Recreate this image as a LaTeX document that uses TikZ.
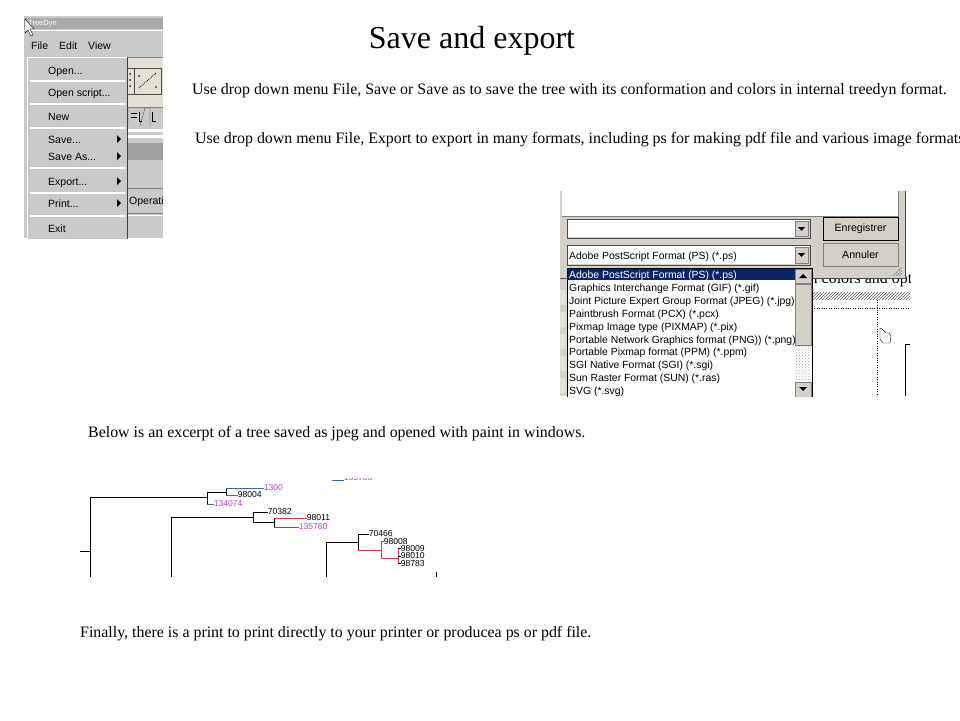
\documentclass[tikz,border=0pt]{standalone}
\usepackage{fontspec}
\setmainfont{Liberation Serif}
\newfontfamily\guifont{Liberation Sans}
\usepackage{xcolor}
\usetikzlibrary{patterns}

\definecolor{wingray}{HTML}{D4D0C8}
\definecolor{menugray}{HTML}{C9C9C9}
\definecolor{titlegray}{HTML}{A9A9A9}
\definecolor{toolbeige}{HTML}{E4E0D4}
\definecolor{selblue}{HTML}{0A246A}
\definecolor{branchblue}{HTML}{3A66B0}
\definecolor{branchred}{HTML}{E0304A}
\definecolor{leafpink}{HTML}{C03CC8}

\newcommand{\menudots}{...}

\tikzset{
	slide text/.style = {anchor = base west, inner sep = 0pt, font = \fontsize{15.9}{17}\selectfont},
	menu text/.style = {anchor = base west, inner sep = 0pt, font = \guifont\fontsize{10.5}{12}\selectfont},
	list text/.style = {anchor = base west, inner sep = 0pt, font = \guifont\fontsize{10.4}{11}\selectfont},
	leaf/.style = {anchor = west, inner sep = 0pt, xshift = 0.6pt, font = \guifont\fontsize{8.6}{9}\selectfont},
	branch/.style = {line width = 0.9pt},
	sub arrow/.style = {fill = black},
	raised/.style = {fill = wingray, draw = gray},
}

\begin{document}
\begin{tikzpicture}[x = 1pt, y = -1pt]
	\useasboundingbox (0,0) rectangle (960,720);
	\clip (0,0) rectangle (960,720);

	% title and comments
	\node[anchor = base, inner sep = 0pt, font = \fontsize{32}{34}\selectfont] (title) at (472,48) {Save and export};
	\node[slide text] (save note) at (192,94) {Use drop down menu File, Save or Save as to save the tree with its conformation and colors in internal treedyn format.};
	\node[slide text] (export note) at (195,143) {Use drop down menu File, Export to export in many formats, including ps for making pdf file and various image formats};
	\node[slide text] (jpeg note) at (88,437) {Below is an excerpt of a tree saved as jpeg and opened with paint in windows.};
	\node[slide text] (print note) at (80,637) {Finally, there is a print to print directly to your printer or producea ps or pdf file.};

	% menu screenshot
	\begin{scope}
		\clip (24,16) rectangle (163,238);
		\fill[menugray] (24,16) rectangle (163,238);
		\fill[titlegray] (24,18) rectangle (163,29);
		\node[anchor = west, inner sep = 0pt, text = white, font = \guifont\fontsize{7.5}{8}\selectfont] (window title) at (28,23.5) {TreeDyn};
		\draw[white] (24,30.5) -- (163,30.5);
		\node[menu text] (menu file) at (31,49) {File};
		\node[menu text] (menu edit) at (59,49) {Edit};
		\node[menu text] (menu view) at (88,49) {View};

		% what is left of the window
		\fill[toolbeige] (128,57) rectangle (163,107);
		\draw[gray] (128,57) -- (163,57) (128,107) -- (163,107);
		\draw[gray!60!black] (126,68) rectangle (134,94) (134,68) rectangle (161,94);
		\draw[densely dotted, thick] (139,88) -- (156,73);
		\fill (139,76) circle [radius = 0.8pt] (156,87) circle [radius = 0.8pt] (130,74) circle [radius = 0.8pt] (130,80) circle [radius = 0.8pt] (130,86) circle [radius = 0.8pt];
		\draw[gray!60!black] (128,108) -- (128,126) (145,108) -- (140,126) (145,108) -- (150,108) -- (150,126);
		\draw (131,113) -- (137,113) (131,117) -- (137,117) (139,112) -- (139,121) -- (142,121) (152,112) -- (152,121) -- (156,121);
		\fill[white] (128,129) rectangle (163,132) (128,135) rectangle (163,138);
		\fill[gray!75] (128,143) rectangle (163,160);
		\draw[gray] (128,188) -- (163,188);
		\draw[gray] (128,213) -- (163,213);
		\draw[white] (128,215) -- (163,215);
		\node[menu text] (tab label) at (129,204) {Operations};

		% drop down menu File
		\fill[menugray] (27,57) rectangle (128,240);
		\draw[white] (27.5,240) -- (27.5,57.5) -- (127,57.5);
		\draw[gray!50!black] (127.5,57) -- (127.5,240);
		\foreach \name/\y in {Open\menudots/74, Open script\menudots/96, New/120, Save\menudots/143, Save As\menudots/160, Export\menudots/185, Print\menudots/207, Exit/232}
			\node[menu text] (item \y) at (48,\y) {\name};
		\foreach \y in {80, 103, 127, 167, 192, 215}
			\draw[gray] (30,\y) -- (125,\y) [white] (30,\y+1) -- (125,\y+1);
		\foreach \y in {139, 156, 181, 203}
			\fill[sub arrow] (117,\y-4) -- (117,\y+4) -- (121,\y) -- cycle;

		% mouse pointer
		\draw[fill = white, line join = round] (25,19) -- (25,33) -- (28,30) -- (31,36) -- (33,35) -- (30,29) -- (34,29) -- cycle;
	\end{scope}

	% export dialog screenshot
	\begin{scope}
		\clip (560,191) rectangle (910,396);
		\fill[white] (560,191) rectangle (910,396);

		% page behind the dialog
		\node[anchor = base west, inner sep = 0pt, font = \fontsize{16}{18}\selectfont] (page text) at (805,283) {in colors and options};
		\fill[pattern = north east lines, pattern color = gray!70!black] (812,292) rectangle (910,299);
		\draw[dotted] (812,308) -- (910,308);
		\draw[dotted] (877,300) -- (877,396);
		\draw[fill = white] (880,328) -- (880,339) -- (883,343) -- (890,343) -- (891,336) -- (889,333) -- (886,333) -- (882,329) -- cycle;
		\draw[line width = 0.8pt] (905,396) -- (905,344) -- (912,344);

		% tool strip on the left
		\fill[gray!35] (560,265) rectangle (567,396);
		\foreach \y in {290, 312, 334, 356, 378}
			\fill[toolbeige] (560,\y) rectangle (566,\y+15);

		% dialog panel
		\fill[wingray] (560,191) rectangle (905,278);
		\draw[gray!60!black] (905.5,191) -- (905.5,278.5) -- (560,278.5);
		\fill[white] (562,191) rectangle (898,216);
		\draw[gray] (898,191) -- (898,216) -- (562,216);
		\draw[gray!60!black] (567,219) rectangle (810,238);
		\fill[white] (568,220) rectangle (809,237);
		\draw[raised] (795,221) rectangle (808,236);
		\fill (798,227) -- (805,227) -- (801.5,231) -- cycle;
		\draw[gray!60!black] (567,245) rectangle (810,265);
		\fill[white] (568,246) rectangle (809,264);
		\draw[raised] (795,247) rectangle (808,263);
		\fill (798,253) -- (805,253) -- (801.5,257) -- cycle;
		\node[list text] (chosen format) at (569,259) {Adobe PostScript Format (PS) (*.ps)};
		\draw[raised, line width = 1pt, draw = black] (823,217) rectangle (898,240);
		\node[font = \guifont\fontsize{10.6}{11}\selectfont, inner sep = 0pt] (save button) at (860.5,228.5) {Enregistrer};
		\draw[raised] (823,243) rectangle (898,266);
		\node[font = \guifont\fontsize{10.6}{11}\selectfont, inner sep = 0pt] (cancel button) at (860.5,254.5) {Annuler};
		\draw[gray] (893,276) -- (902,267) (896,276) -- (902,270) (899,276) -- (902,273);

		% list of formats
		\fill[white] (567,268) rectangle (812,396);
		\draw[black] (567,268) rectangle (812,400);
		\fill[selblue] (568,269) rectangle (795,280);
		\begin{scope}
			\clip (567,268) rectangle (795,396);
			\node[list text, text = white] (format 1) at (569,278.5) {Adobe PostScript Format (PS) (*.ps)};
			\foreach \name [count = \i from 2] in {Graphics Interchange Format (GIF) (*.gif), Joint Picture Expert Group Format (JPEG) (*.jpg), Paintbrush Format (PCX) (*.pcx), Pixmap Image type (PIXMAP) (*.pix), Portable Network Graphics format (PNG)) (*.png), Portable Pixmap format (PPM) (*.ppm), SGI Native Format (SGI) (*.sgi), Sun Raster Format (SUN) (*.ras), SVG (*.svg)}
				\node[list text] (format \i) at (569,{278.5 + (\i - 1)*12.9}) {\name};
		\end{scope}
		\fill[pattern = crosshatch dots, pattern color = gray!60] (795,283) rectangle (811,396);
		\draw[raised] (795,269) rectangle (811,283);
		\fill (799,278) -- (807,278) -- (803,274) -- cycle;
		\draw[raised] (795,284) rectangle (811,345);
		\draw[raised] (795,382) rectangle (811,397);
		\fill (799,387) -- (807,387) -- (803,391) -- cycle;
	\end{scope}

	% tree excerpt
	\begin{scope}
		\clip (78,478) rectangle (440,576);
		\node[leaf, text = leafpink] (l135783) at (343,478) {135783};
		\node[leaf, text = leafpink] (l1300) at (263,488) {1300};
		\node[leaf] (l98004) at (237,495) {98004};
		\node[leaf, text = leafpink] (l134074) at (213,504) {134074};
		\node[leaf] (l70382) at (267,512) {70382};
		\node[leaf] (l98011) at (306,518) {98011};
		\node[leaf, text = leafpink] (l135760) at (298,527) {135760};
		\node[leaf] (l70466) at (368,534) {70466};
		\node[leaf] (l98008) at (383,541.5) {98008};
		\node[leaf] (l98009) at (400,548.5) {98009};
		\node[leaf] (l98010) at (400,556) {98010};
		\node[leaf] (l98783) at (400,563.5) {98783};

		\draw[branch, branchblue] (332,480) -- (l135783.west |- 0,480);
		\draw[branch] (80,551) -- (90,551) (90,580) -- (90,497) -- (207,497);
		\draw[branch] (207,504) -- (207,492) -- (226,492);
		\draw[branch] (226,488) -- (226,495);
		\draw[branch, branchblue] (226,488) -- (l1300);
		\draw[branch, branchred] (226,495) -- (l98004);
		\draw[branch, branchblue] (207,504) -- (l134074);

		\draw[branch] (171,580) -- (171,517) -- (253,517);
		\draw[branch] (253,512) -- (253,522) -- (274,522);
		\draw[branch] (253,512) -- (l70382);
		\draw[branch] (274,518) -- (274,527);
		\draw[branch, branchred] (274,518) -- (l98011);
		\draw[branch, branchblue] (274,527) -- (l135760);

		\draw[branch] (326,580) -- (326,542) -- (358,542);
		\draw[branch] (358,550) -- (358,534) -- (l70466);
		\draw[branch, branchred] (358,550) -- (381,550) (381,541.5) -- (381,558) -- (398,558) (398,548.5) -- (398,563.5);
		\draw[branch, branchred] (381,541.5) -- (l98008);
		\foreach \leafname in {l98009, l98010, l98783}
			\draw[branch] (398,0 |- \leafname.west) -- (\leafname);
		\draw[branch] (436,572) -- (436,578);
	\end{scope}
\end{tikzpicture}
\end{document}
